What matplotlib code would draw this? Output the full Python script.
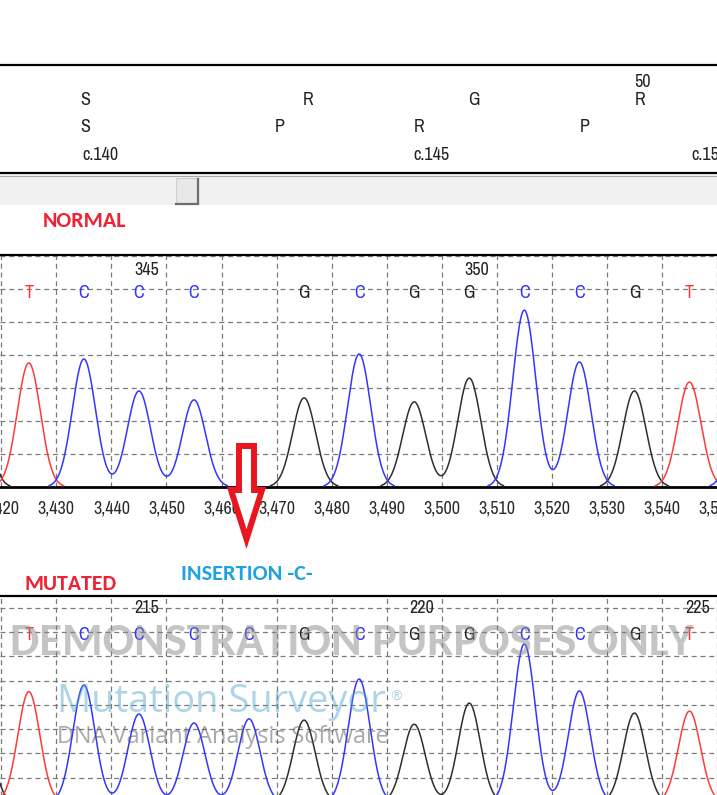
import matplotlib
matplotlib.use("Agg")
import matplotlib.pyplot as plt
import numpy as np
from matplotlib.patches import Polygon, Rectangle
from matplotlib import font_manager

W, H = 717, 795

# ---- values ----
# scan range shown (both traces share the same scan axis)
scan_lo, scan_hi = 3419.76, 3549.28
scan_ticks = list(range(3420, 3551, 10))

# NORMAL trace: peak scan position, base, height (grid units)
normal_pos = [3415, 3425, 3435, 3445, 3455, 3475, 3485, 3495, 3505, 3515, 3525, 3535, 3545, 3555]
normal_base = ['G', 'T', 'C', 'C', 'C', 'G', 'C', 'G', 'G', 'C', 'C', 'G', 'T', 'C']
normal_height = [5.0, 3.76, 3.88, 2.91, 2.64, 2.70, 4.03, 2.58, 3.30, 5.36, 3.79, 2.91, 3.18, 3.5]
normal_numbers = {3445: '345', 3505: '350'}

# MUTATED trace (extra C at 3465)
mut_pos = [3416, 3425, 3435, 3445, 3455, 3465, 3475, 3485, 3495, 3505, 3515, 3525, 3535, 3545, 3555]
mut_base = ['G', 'T', 'C', 'C', 'C', 'C', 'G', 'C', 'G', 'G', 'C', 'C', 'G', 'T', 'C']
mut_height = [4.5, 4.54, 4.81, 3.62, 3.25, 3.42, 3.37, 5.06, 3.20, 4.07, 6.50, 4.57, 3.66, 3.74, 3.0]
mut_numbers = {3445: '215', 3495: '220', 3545: '225'}

# amino acid / codon annotation rows
aa_row1 = ['S', 'R', 'G', 'R']
aa_row1_pos = [3435.1, 3475.4, 3505.4, 3535.4]
aa_row2 = ['S', 'P', 'R', 'P']
aa_row2_pos = [3435.1, 3470.3, 3495.5, 3525.3]
codon_labels = ['c.140', 'c.145', 'c.150']
codon_pos = [3434.6, 3494.5, 3544.6]
aa_number = '50'
aa_number_pos = 3535.8

trace_col = {'T': '#ff3a3a', 'C': '#3535ff', 'G': '#2e2e2e'}
text_col = {'T': '#ff3030', 'C': '#3030ff', 'G': '#222222'}

names = {f.name for f in font_manager.fontManager.ttflist}


def pick(*cands):
    for c in cands:
        if c in names:
            return c
    return 'DejaVu Sans'


narrow = pick('Archivo Narrow', 'Liberation Sans Narrow', 'Liberation Sans')
calib = pick('Carlito', 'Lato', 'Open Sans')
segoe = pick('Open Sans', 'Noto Sans')

fig = plt.figure(figsize=(W / 100, H / 100), dpi=100)


def px_axes(top, bottom, **kw):
    # axes spanning full width, between pixel rows top..bottom
    return fig.add_axes([0, 1 - bottom / H, 1, (bottom - top) / H], **kw)


def style_trace_axes(ax, ytop, nlines, labels):
    ax.set_xlim(scan_lo, scan_hi)
    ax.set_ylim(0, ytop)
    ax.set_xticks(scan_ticks)
    ax.set_yticks(range(1, nlines + 1))
    ax.grid(True, ls=(0, (4, 3)), color='#7a7a7a', lw=0.9)
    ax.set_axisbelow(True)
    for s in ('left', 'right'):
        ax.spines[s].set_visible(False)
    ax.spines['top'].set_linewidth(1.6)
    ax.spines['bottom'].set_linewidth(2.0)
    ax.tick_params(length=0, labelleft=False)
    if labels:
        ax.set_xticklabels([f"{t:,}" for t in scan_ticks], fontsize=13,
                           family=narrow, color='#2b2b2b')
        ax.tick_params(axis='x', pad=10)
    else:
        ax.tick_params(labelbottom=False)


def draw_trace(ax, pos, base, height, sigma, letter_y, num_y, numbers):
    scan = np.linspace(scan_lo - 15, scan_hi + 15, 3000)
    for b in ('G', 'T', 'C'):
        y = np.zeros_like(scan)
        for p, bb, h in zip(pos, base, height):
            if bb == b:
                y += h * np.exp(-0.5 * ((scan - p) / sigma) ** 2)
        y[y < 0.04] = np.nan
        ax.plot(scan, y, color=trace_col[b], lw=1.1, zorder=3)
    for p, bb in zip(pos, base):
        if scan_lo < p < scan_hi:
            ax.text(p, letter_y, bb, color=text_col[bb], ha='center', va='center',
                    fontsize=13, family=narrow, zorder=4)
    for p, s in numbers.items():
        ax.text(p + 1.4, num_y, s, color='#222222', ha='center', va='center',
                fontsize=13, family=narrow, zorder=4)


# ---- annotation strip ----
ax_top = px_axes(65, 173)
ax_top.set_xlim(scan_lo, scan_hi)
ax_top.set_ylim(0, 1)
ax_top.set_xticks([])
ax_top.set_yticks([])
for s in ('left', 'right'):
    ax_top.spines[s].set_visible(False)
ax_top.spines['top'].set_linewidth(1.6)
ax_top.spines['bottom'].set_linewidth(1.6)
for lab, p in zip(aa_row1, aa_row1_pos):
    ax_top.text(p, 0.676, lab, ha='center', va='center', fontsize=13, family=narrow, color='#222222')
for lab, p in zip(aa_row2, aa_row2_pos):
    ax_top.text(p, 0.426, lab, ha='center', va='center', fontsize=13, family=narrow, color='#222222')
for lab, p in zip(codon_labels, codon_pos):
    ax_top.text(p, 0.167, lab, ha='left', va='center', fontsize=13, family=narrow,
                color='#222222', clip_on=True)
ax_top.text(aa_number_pos, 0.843, aa_number, ha='center', va='center', fontsize=13,
            family=narrow, color='#222222')

# ---- normal trace ----
ax_n = px_axes(255, 487)
style_trace_axes(ax_n, 232 / 33, 7, True)
draw_trace(ax_n, normal_pos, normal_base, normal_height, 2.1, 194 / 33, 217 / 33, normal_numbers)

# ---- mutated trace ----
ax_m = px_axes(596, 802)
style_trace_axes(ax_m, 206 / 24.3, 8, False)
draw_trace(ax_m, mut_pos, mut_base, mut_height, 2.0, 167 / 24.3, 194 / 24.3, mut_numbers)

# ---- overlay in pixel coordinates ----
ov = fig.add_axes([0, 0, 1, 1], zorder=10)
ov.set_xlim(0, W)
ov.set_ylim(H, 0)
ov.axis('off')
ov.patch.set_alpha(0)

# scrollbar
ov.add_patch(Rectangle((0, 175), W, 30, facecolor='#f1f1f1', edgecolor='none'))
ov.plot([0, W], [175.5, 175.5], color='#a8a8a8', lw=0.8)
ov.add_patch(Rectangle((176, 178), 22, 26, facecolor='#e8e8e8', edgecolor='#d0d0d0', lw=0.8))
ov.plot([198, 198, 176], [179, 204, 204], color='#6e6e6e', lw=1.6, solid_joinstyle='miter')

# arrow
arrow = [(239, 446), (254, 446), (254, 490), (262, 490), (246.5, 539), (231, 490), (239, 490)]
ov.add_patch(Polygon(arrow, closed=True, facecolor='white', edgecolor='#e8161e', lw=4.3,
                     joinstyle='miter'))

rend = fig.canvas.get_renderer()


def fitted(x0, x1, y, s, **kw):
    t = ov.text(x0, y, s, ha='left', va='baseline', **kw)
    bb = t.get_window_extent(rend)
    t.set_fontsize(t.get_fontsize() * (x1 - x0) / bb.width)
    return t


fitted(43, 127, 227, 'NORMAL', fontsize=16, family=calib, weight='bold', color='#ee2233')
fitted(24, 116, 590, 'MUTATED', fontsize=16, family=calib, weight='bold', color='#ee2233')
fitted(181, 313, 580, 'INSERTION -C-', fontsize=16, family=calib, weight='bold', color='#1ea2e2')

# watermark
fitted(10, 693, 655, 'DEMONSTRATION PURPOSES ONLY', fontsize=34, family=calib,
       weight='bold', color='#8a8a8a', alpha=0.5)
fitted(57, 385, 712, 'Mutation Surveyor', fontsize=40, family=segoe,
       color='#4aa3c8', alpha=0.45)
ov.text(396, 697, '\u00ae', ha='center', va='center', fontsize=10, family='DejaVu Sans',
        color='#4aa3c8', alpha=0.45)
fitted(57, 389, 743, 'DNA Variant Analysis Software', fontsize=20, family=segoe,
       color='#555555', alpha=0.5)

fig.savefig('out.png', dpi=100)
